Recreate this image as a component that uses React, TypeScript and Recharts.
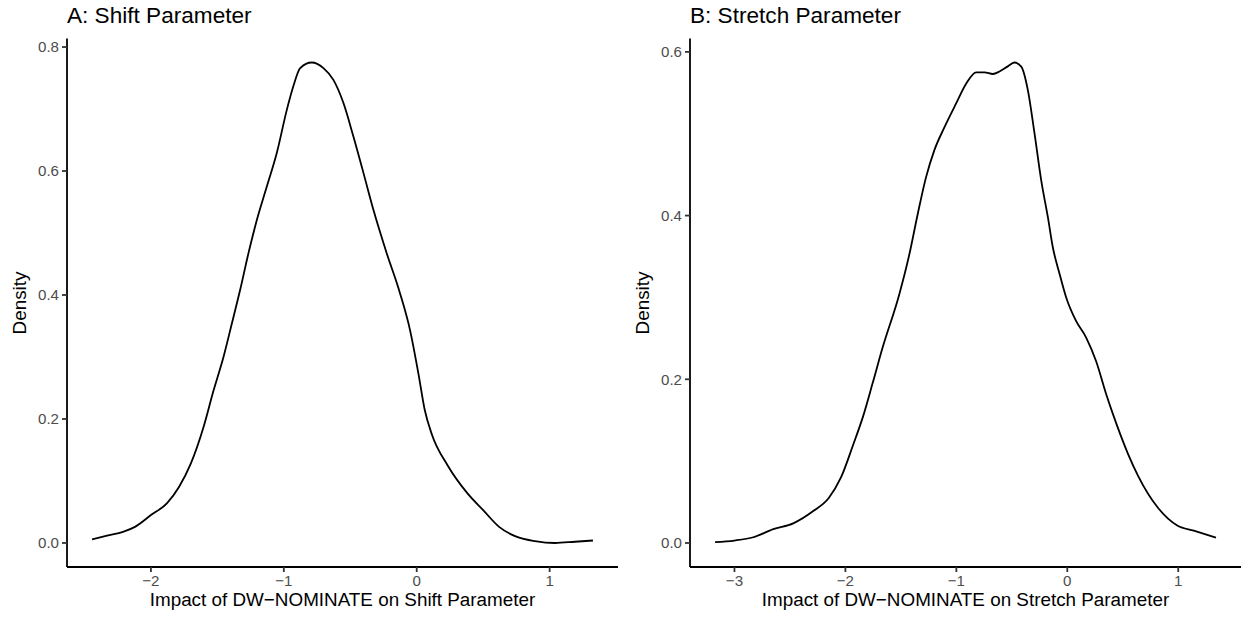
import { Line, LineChart, XAxis, YAxis } from "recharts";

// density curves
const shiftX = [
  -2.443, -2.33, -2.21, -2.12, -2.0, -1.88, -1.79, -1.7, -1.6, -1.53, -1.454, -1.391, -1.329, -1.266,
  -1.203, -1.128, -1.053, -0.977, -0.928, -0.877, -0.79, -0.702, -0.627, -0.552, -0.477, -0.401,
  -0.326, -0.226, -0.126, -0.05, 0.012, 0.06, 0.114, 0.233, 0.382, 0.5, 0.62, 0.74, 0.89, 1.04, 1.19, 1.326,
];
const shiftDensity = [
  0.006, 0.012, 0.018, 0.026, 0.045, 0.064, 0.09, 0.128, 0.19, 0.245, 0.3, 0.354, 0.408, 0.4675,
  0.521, 0.575, 0.629, 0.699, 0.737, 0.766, 0.775, 0.766, 0.747, 0.71, 0.656, 0.597,
  0.5375, 0.4675, 0.403, 0.343, 0.274, 0.215, 0.175, 0.125, 0.08, 0.053, 0.026, 0.011, 0.003, 0.0, 0.002, 0.004,
];
const shiftTicks = [-2, -1, 0, 1];
const shiftDensityTicks = [0, 0.2, 0.4, 0.6, 0.8];

const stretchX = [
  -3.175, -3.0, -2.83, -2.65, -2.47, -2.29, -2.15, -2.04, -1.93, -1.84, -1.755, -1.664, -1.514, -1.423,
  -1.348, -1.273, -1.198, -1.107, -1.002, -0.912, -0.821, -0.746, -0.671, -0.611, -0.54, -0.476, -0.415,
  -0.355, -0.295, -0.235, -0.175, -0.13, -0.07, -0.01, 0.08, 0.17, 0.26, 0.35, 0.41, 0.477, 0.55, 0.638,
  0.817, 0.995, 1.14, 1.34,
];
const stretchDensity = [
  0.001, 0.003, 0.007, 0.017, 0.024, 0.039, 0.055, 0.08, 0.12, 0.155, 0.195, 0.239, 0.304, 0.353,
  0.402, 0.447, 0.48, 0.508, 0.537, 0.561, 0.575, 0.575, 0.573, 0.576, 0.582, 0.587, 0.582,
  0.553, 0.5, 0.443, 0.398, 0.361, 0.329, 0.3, 0.271, 0.251, 0.222, 0.182, 0.158, 0.133, 0.108, 0.082,
  0.043, 0.021, 0.015, 0.0065,
];
const stretchTicks = [-3, -2, -1, 0, 1];
const stretchDensityTicks = [0, 0.2, 0.4, 0.6];

const FONT = "'Liberation Sans', Arial, Helvetica, sans-serif";

// ggplot-style 5% expansion
function expand(values: number[]): [number, number] {
  const lo = Math.min(...values);
  const hi = Math.max(...values);
  const pad = (hi - lo) * 0.05;
  return [lo - pad, hi + pad];
}

const fmtX = (v: number) => (v < 0 ? `\u2212${Math.abs(v)}` : `${v}`);
const fmtY = (v: number) => v.toFixed(1);

type PanelProps = {
  left: number;
  title: string;
  xLabel: string;
  xs: number[];
  ys: number[];
  xTicks: number[];
  yTicks: number[];
  yAxisWidth: number;
  rightMargin: number;
};

function DensityPanel({ left, title, xLabel, xs, ys, xTicks, yTicks, yAxisWidth, rightMargin }: PanelProps) {
  const data = xs.map((x, i) => ({ x, density: ys[i] }));
  const plotLeft = yAxisWidth;
  const plotRight = 620 - rightMargin;
  return (
    <div style={{ position: "absolute", left, top: 0, width: 620, height: 619 }}>
      <LineChart width={620} height={619} data={data} margin={{ top: 38.5, right: rightMargin, bottom: 22, left: 0 }}>
        <XAxis
          type="number"
          dataKey="x"
          domain={expand(xs)}
          ticks={xTicks}
          interval={0}
          height={30}
          tickSize={5}
          tickMargin={3}
          tickFormatter={fmtX}
          axisLine={{ stroke: "#000", strokeWidth: 1.8 }}
          tickLine={{ stroke: "#333", strokeWidth: 1.8 }}
          tick={{ fill: "#4D4D4D", fontSize: 15.1, fontFamily: FONT }}
        />
        <YAxis
          type="number"
          domain={expand([0, ...ys])}
          ticks={yTicks}
          interval={0}
          width={yAxisWidth}
          tickSize={5}
          tickMargin={3}
          tickFormatter={fmtY}
          axisLine={{ stroke: "#000", strokeWidth: 1.8 }}
          tickLine={{ stroke: "#333", strokeWidth: 1.8 }}
          tick={{ fill: "#4D4D4D", fontSize: 15.1, fontFamily: FONT }}
        />
        <Line type="monotone" dataKey="density" stroke="#000" strokeWidth={1.8} dot={false} isAnimationActive={false} />
      </LineChart>
      <div style={{ position: "absolute", left: plotLeft, top: 5, fontSize: 22.6, lineHeight: 1, whiteSpace: "nowrap", color: "#000" }}>
        {title}
      </div>
      <div
        style={{
          position: "absolute",
          left: (plotLeft + plotRight) / 2,
          top: 591,
          transform: "translateX(-50%)",
          fontSize: 18.85,
          lineHeight: 1,
          whiteSpace: "nowrap",
          color: "#000",
        }}
      >
        {xLabel}
      </div>
      <div
        style={{
          position: "absolute",
          left: plotLeft - 47,
          top: 302.6,
          transform: "translate(-50%, -50%) rotate(-90deg)",
          fontSize: 18.85,
          lineHeight: 1,
          whiteSpace: "nowrap",
          color: "#000",
        }}
      >
        Density
      </div>
    </div>
  );
}

export default function App() {
  return (
    <div style={{ position: "absolute", left: 0, top: 0, width: 1241, height: 619, background: "#fff", fontFamily: FONT, overflow: "hidden" }}>
      <DensityPanel
        left={0}
        title="A: Shift Parameter"
        xLabel="Impact of DW−NOMINATE on Shift Parameter"
        xs={shiftX}
        ys={shiftDensity}
        xTicks={shiftTicks}
        yTicks={shiftDensityTicks}
        yAxisWidth={67}
        rightMargin={2}
      />
      <DensityPanel
        left={621}
        title="B: Stretch Parameter"
        xLabel="Impact of DW−NOMINATE on Stretch Parameter"
        xs={stretchX}
        ys={stretchDensity}
        xTicks={stretchTicks}
        yTicks={stretchDensityTicks}
        yAxisWidth={69}
        rightMargin={0}
      />
    </div>
  );
}
